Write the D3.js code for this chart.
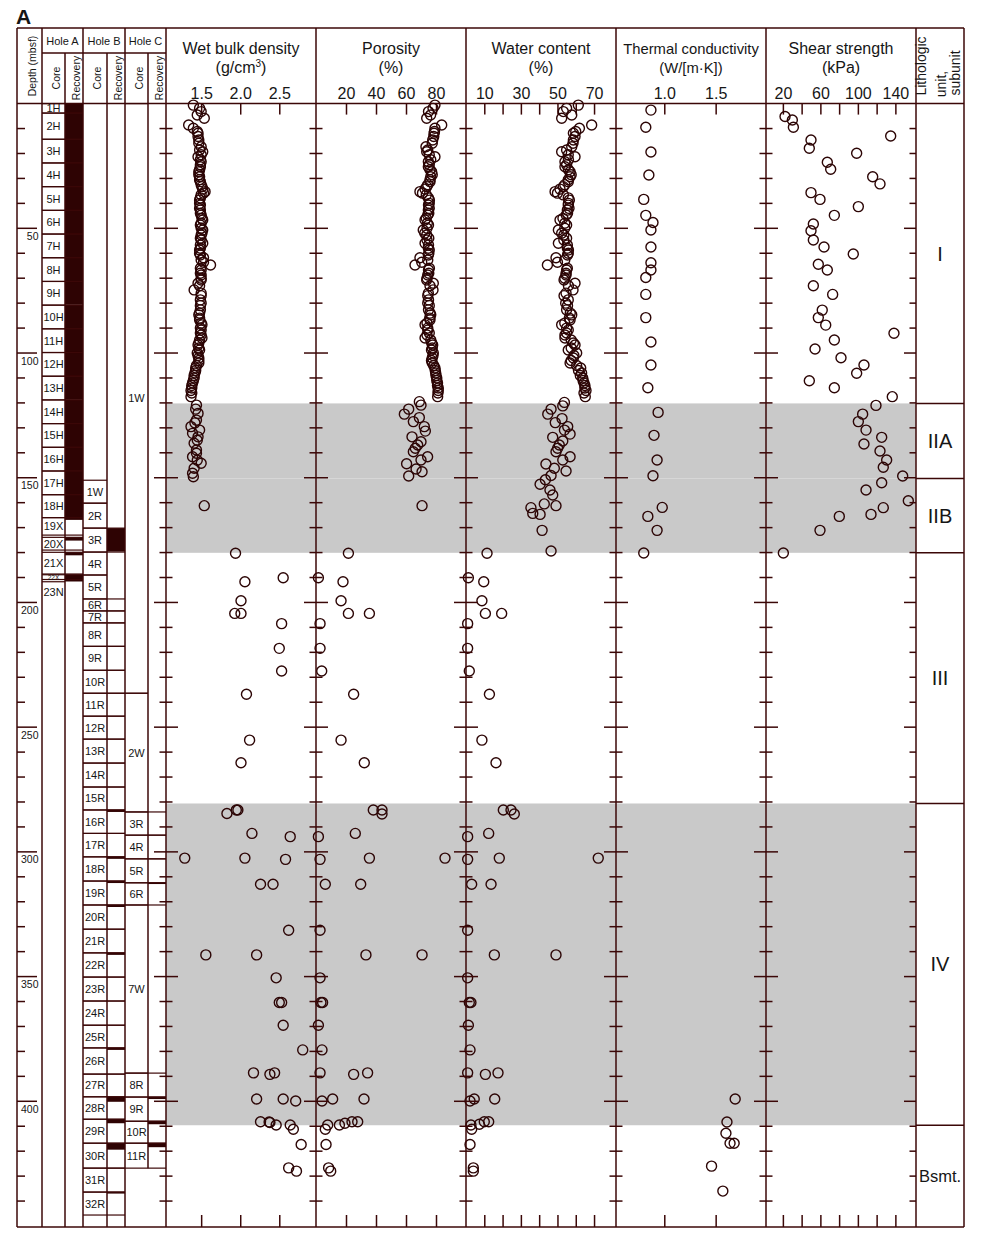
<!DOCTYPE html>
<html><head><meta charset="utf-8">
<script src="https://cdn.jsdelivr.net/npm/d3@7"></script>
<style>body{margin:0;background:#fff}svg{display:block}text{font-family:"Liberation Sans",Arial,Helvetica,sans-serif}</style>
</head><body><svg id="c" width="984" height="1244"></svg>
<script>
// ---------------- DATA ----------------
const madDepth = [0.6,1.9,3.2,4.6,5.9,8.6,9.9,11.2,11.9,13.2,14.6,15.9,17.3,18.6,19.3,20.5,21.3,22.5,23.3,24.5,25.3,26.5,27.3,28.5,29.3,30.5,31.3,32.5,33.3,34.3,35.3,35.9,36.6,37.8,38.7,40.0,40.7,42.0,42.7,44.0,44.7,46.0,46.7,48.0,48.7,50.0,50.7,52.0,52.7,54.0,54.7,56.0,56.7,58.0,58.7,60.0,60.7,61.8,62.7,63.6,64.7,66.0,66.7,68.0,68.7,70.0,70.7,72.0,73.0,74.7,76.0,77.0,78.7,80.0,81.0,82.7,84.0,84.7,86.0,86.7,88.0,88.7,90.0,90.8,92.0,92.8,94.0,94.8,96.0,96.8,98.0,98.8,100.0,101.0,102.0,103.0,104.0,105.0,106.0,107.0,108.0,109.0,110.0,111.0,112.0,113.0,114.0,115.0,116.0,117.5];
const wbdUnitI = [1.40,1.48,1.50,1.45,1.54,1.34,1.40,1.45,1.46,1.46,1.47,1.47,1.50,1.48,1.52,1.50,1.46,1.49,1.50,1.49,1.49,1.48,1.47,1.47,1.48,1.48,1.49,1.50,1.51,1.52,1.55,1.53,1.50,1.49,1.48,1.48,1.49,1.48,1.49,1.49,1.50,1.51,1.52,1.50,1.49,1.50,1.52,1.51,1.50,1.49,1.50,1.52,1.49,1.49,1.48,1.48,1.49,1.53,1.50,1.53,1.62,1.49,1.50,1.49,1.50,1.50,1.50,1.46,1.48,1.41,1.50,1.50,1.49,1.50,1.49,1.49,1.48,1.47,1.48,1.48,1.50,1.51,1.49,1.50,1.49,1.50,1.51,1.48,1.47,1.46,1.47,1.48,1.45,1.46,1.47,1.47,1.47,1.44,1.43,1.43,1.42,1.41,1.41,1.40,1.39,1.38,1.38,1.37,1.38,1.37];
const porUnitI = [79.3,78.0,75.0,76.4,73.8,83.8,79.3,79.0,78.7,78.5,77.8,77.5,73.3,74.5,73.8,75.5,79.3,76.5,74.9,75.5,74.9,76.0,77.1,77.5,76.5,76.0,76.0,74.5,73.8,72.7,69.3,71.0,73.5,74.9,75.6,75.5,75.0,75.5,74.9,75.2,74.5,73.5,72.7,74.2,75.0,74.0,71.5,72.5,73.8,75.2,74.0,72.7,75.0,74.9,75.5,75.2,74.9,69.3,74.5,70.5,66.0,75.6,75.0,75.2,74.5,74.0,73.8,78.2,76.0,78.0,74.9,74.5,75.0,74.5,75.5,75.0,76.0,76.5,75.8,76.0,74.0,72.7,74.5,74.5,75.5,74.0,72.7,76.5,77.1,77.8,77.5,77.0,78.2,78.0,77.5,77.0,77.5,78.5,79.3,79.5,79.8,80.0,80.5,80.5,81.0,81.0,81.5,81.5,81.3,81.1];
const wcUnitI = [61.4,55.0,53.2,57.8,52.3,68.7,62.0,60.0,58.7,59.6,58.7,58.5,57.8,55.0,52.3,55.9,59.6,56.0,54.1,55.0,54.1,56.0,56.9,57.5,56.9,55.9,55.9,54.0,53.2,51.4,48.7,50.0,53.2,55.9,56.5,56.0,55.9,56.3,55.4,55.5,54.8,53.0,51.4,54.0,55.0,54.0,50.5,52.3,53.5,55.0,53.5,50.5,55.4,55.4,56.0,55.9,55.5,49.2,54.0,50.0,44.5,55.4,55.0,54.7,54.7,54.0,53.6,59.6,56.0,58.5,54.7,53.6,55.9,54.5,55.5,55.0,57.0,57.8,56.5,56.9,54.0,52.3,55.0,55.9,55.0,54.1,54.1,57.5,58.7,59.6,57.5,55.9,60.5,59.0,58.7,57.5,56.9,60.5,62.7,61.5,63.2,62.5,63.8,64.0,64.5,65.0,65.0,65.6,64.5,65.2];

const wbdLower = [[120.9,1.44],[122.5,1.43],[124.2,1.46],[126.9,1.44],[128.0,1.42],[129.5,1.37],[130.9,1.48],[132.2,1.39],[133.6,1.46],[135.0,1.45],[136.2,1.41],[138.9,1.44],[140.2,1.44],[141.6,1.39],[143.0,1.45],[144.2,1.50],[146.2,1.41],[148.2,1.39],[149.6,1.40],[161.2,1.54],
 [180.3,1.94],[190.1,2.55],[191.7,2.06],[199.3,2.01],[204.4,1.93],[204.4,2.01],[208.5,2.53],[218.4,2.50],[227.5,2.53],[236.8,2.08],[255.2,2.12],[264.3,2.01],
 [283.2,1.95],[283.2,1.97],[284.6,1.83],[292.6,2.15],[293.9,2.64],[302.5,1.29],[302.5,2.06],[303.0,2.58],[313.0,2.26],[313.0,2.42],[331.4,2.62],[341.3,1.56],[341.3,2.21],[350.5,2.46],[360.4,2.50],[360.4,2.53],[369.5,2.55],[379.4,2.80],[388.6,2.17],[389.2,2.38],[388.6,2.44],[399.1,2.21],[399.1,2.55],[399.9,2.71],[408.2,2.26],[408.3,2.37],[408.5,2.38],[409.5,2.46],[409.5,2.64],[411.2,2.68],[417.3,2.78],[426.7,2.62],[428.0,2.72]];
const porLower = [[119.5,68.9],[120.9,70.0],[122.5,61.8],[124.5,58.9],[125.9,68.9],[127.5,64.9],[129.5,72.2],[131.3,72.9],[133.6,64.0],[135.6,70.0],[136.9,67.8],[138.2,66.2],[139.6,64.9],[141.6,74.4],[142.9,70.0],[144.4,60.4],[146.5,66.7],[147.6,70.7],[149.3,61.8],[161.2,70.7],
 [180.3,21.6],[190.1,1.6],[191.7,18.0],[199.3,16.7],[204.4,21.6],[204.4,35.6],[208.5,2.7],[218.4,2.7],[227.5,3.8],[236.8,25.1],[255.2,16.7],[264.3,32.2],
 [283.2,38.2],[283.2,44.0],[284.8,44.0],[292.6,26.2],[293.9,1.6],[302.5,35.6],[302.5,86.0],[303.0,2.7],[313.0,6.2],[313.0,29.8],[331.4,2.7],[341.3,33.3],[341.3,70.7],[350.5,2.7],[360.4,3.3],[360.4,4.4],[369.5,1.6],[379.4,4.0],[388.6,2.7],[389.2,25.1],[388.6,34.4],[399.9,4.0],[399.1,11.1],[399.1,32.0],[409.5,7.8],[411.2,6.2],[409.5,15.6],[408.8,19.3],[408.2,24.0],[408.2,27.8],[417.3,6.7],[426.7,8.4],[428.0,9.8]];
const wcLower = [[119.8,53.8],[121.2,52.9],[122.5,46.5],[124.5,44.7],[126.3,52.5],[127.9,48.8],[129.5,55.6],[130.9,53.8],[132.5,56.9],[133.8,47.4],[135.3,52.9],[136.9,51.0],[138.2,50.1],[139.6,49.2],[141.6,56.9],[142.9,52.9],[144.5,43.7],[146.2,48.3],[147.3,54.7],[149.1,46.5],[150.8,43.4],[152.6,40.5],[154.9,45.9],[156.9,47.4],[160.5,42.8],[161.2,49.2],[162.0,35.5],[164.3,36.5],[164.7,40.5],[171.1,41.6],[179.4,46.5],
 [180.3,11.5],[190.1,1.3],[191.7,9.7],[199.3,8.7],[204.4,10.6],[204.4,19.5],[208.5,0.9],[218.4,0.9],[227.5,1.8],[236.8,12.8],[255.2,8.7],[264.3,16.4],
 [283.2,20.4],[283.2,24.6],[284.8,26.4],[292.6,12.4],[293.9,0.9],[302.5,18.2],[302.5,72.3],[303.0,0.9],[313.0,3.1],[313.0,13.7],[331.4,0.9],[341.3,15.5],[341.3,49.2],[350.5,0.9],[360.4,1.8],[360.4,2.7],[369.5,1.3],[379.4,2.2],[388.6,0.9],[389.2,10.6],[388.6,17.5],[399.9,2.2],[399.1,4.5],[399.1,15.7],[409.5,2.7],[411.2,3.1],[409.2,7.3],[408.2,10.0],[408.2,12.4],[417.3,2.2],[426.7,4.0],[428.0,4.0]];
const tcPoints = [[2.6,0.87],[9.5,0.82],[19.4,0.87],[28.6,0.85],[38.4,0.80],[44.8,0.82],[47.7,0.89],[50.7,0.87],[57.5,0.87],[63.8,0.87],[66.7,0.87],[69.7,0.82],[76.5,0.82],[85.8,0.82],[95.6,0.87],[104.8,0.87],[113.9,0.84],[123.8,0.94],[133.0,0.90],[142.9,0.93],[149.2,0.89],[161.9,0.98],[165.5,0.84],[171.1,0.93],[180.2,0.80],
 [399.1,1.69],[408.3,1.61],[412.8,1.60],[416.8,1.68],[416.8,1.64],[426.0,1.46],[436.0,1.57]];
const shearPoints = [[5.2,22.3],[6.6,30.1],[9.5,31.2],[13.0,135],[14.6,50],[17.9,48.2],[19.9,98.7],[23.5,67.4],[26.3,71],[29.3,115.8],[32.2,123.6],[35.7,50],[38.4,59.6],[41.3,100.5],[44.8,74.9],[48.3,52.5],[51.0,50],[54.7,52.5],[57.5,63.9],[60.3,95.1],[64.4,57.8],[66.7,67.4],[73.0,52.5],[76.5,73.1],[82.8,62],[85.8,57.8],[88.8,65.7],[92.1,138.5],[94.8,74.9],[98.4,54.3],[101.9,82],[104.8,106.5],[108.1,98.7],[111.1,48.2],[113.9,74.9],[117.5,136.7],
 [121.0,119.3],[124.5,105.1],[127.5,100.5],[130.9,108.7],[133.8,125.4],[136.5,106.5],[139.3,123.6],[142.9,130.7],[145.8,127.1],[149.3,147.8],[152.0,125.4],[154.9,108.7],[159.2,153.8],[162.0,127.1],[164.7,114],[165.5,80.2],[171.1,59.6],[180.2,20.5]];

// axis ticks / labels
const wbdTicks = [1.5,2.0,2.5], wbdLabels = [1.5,2.0,2.5];
const porTicks = [20,40,60,80], porLabels = [20,40,60,80];
const wcTicks = [10,20,30,40,50,60,70], wcLabels = [10,30,50,70];
const tcTicks = [1.0,1.5], tcLabels = [1.0,1.5];
const shearTicks = [20,40,60,80,100,120,140], shearLabels = [20,60,100,140];
const depthLabels = [50,100,150,200,250,300,350,400];

// lithologic units
const unitNames = ["I","IIA","IIB","III","IV","Bsmt."];
const unitTop = [0,120.2,150.3,180.1,280.6,409.6];
const unitBottom = [120.2,150.3,180.1,280.6,409.6,450.4];
const shadedUnits = ["IIA","IIB","IV"];

// cores: [name, top (mbsf), bottom (mbsf), recovered length (m)]
const holeACores = [["1H",0,3.8,3.8],["2H",3.8,14.3,10.5],["3H",14.3,23.8,9.5],["4H",23.8,33.3,9.5],["5H",33.3,42.8,9.5],["6H",42.8,52.3,9.5],["7H",52.3,61.8,9.5],["8H",61.8,71.3,9.5],["9H",71.3,80.8,9.3],["10H",80.8,90.3,9.5],["11H",90.3,99.8,9.5],["12H",99.8,109.3,9.5],["13H",109.3,118.8,9.3],["14H",118.8,128.3,9.5],["15H",128.3,137.8,9.5],["16H",137.8,147.3,9.5],["17H",147.3,156.8,9.5],["18H",156.8,166.0,9.2],["19X",166.0,173.0,0.9],["20X",173.9,179.0,1.3],["21X",179.9,188.6,1.2],["22X",188.9,190.8,2.7],["23N",191.7,450.4,0]];
const holeBCores = [["1W",151.0,160.2,0],["2R",160.2,170.2,0],["3R",170.2,179.8,9.4],["4R",179.8,189.0,0],["5R",189.0,198.6,0],["6R",198.6,203.4,0],["7R",203.4,208.2,0],["8R",208.2,217.6,0],["9R",217.6,227.2,0],["10R",227.2,236.4,0],["11R",236.4,245.6,0],["12R",245.6,254.8,0],["13R",254.8,264.4,0],["14R",264.4,274.0,0],["15R",274.0,283.2,0],["16R",283.2,292.6,0.8],["17R",292.6,302.0,0],["18R",302.0,311.7,0.8],["19R",311.7,321.3,0.8],["20R",321.3,331.0,0.8],["21R",331.0,340.5,0],["22R",340.5,350.2,0.8],["23R",350.2,359.8,0],["24R",359.8,369.5,0],["25R",369.5,378.6,0],["26R",378.6,389.1,0.8],["27R",389.1,398.2,0],["28R",398.2,407.2,2.0],["29R",407.2,416.8,1.6],["30R",416.8,426.8,2.6],["31R",426.8,436.4,0],["32R",436.4,445.6,0.6]];
const holeCCores = [["1W",0,236.4,0],["2W",236.4,284.0,0],["3R",284.0,293.3,0],["4R",293.3,302.8,0],["5R",302.8,312.4,0],["6R",312.4,321.3,0.5],["7W",321.3,388.7,0],["8R",388.7,398.3,0],["9R",398.3,408.0,0.8],["10R",408.0,416.8,1.2],["11R",416.8,426.8,1.6]];
// cores drawn without a recovery-column box
const noRecoveryBox = ["B2R","B4R","B5R"];

// ---------------- DRAW ----------------
const LINE = "#3b0707", DOT = "#2c0505", TXT = "#161616", FILL = "#2e0303", GRAY = "#c9c9c9";
const svg = d3.select("#c");
const W = 984, H = 1244;
const FL = 17, FR = 964, FT = 28, HB = 103.6, FB = 1227;
const y = d3.scaleLinear().domain([0, 450.4]).range([HB, FB]);
svg.append("rect").attr("width", W).attr("height", H).attr("fill", "#fff");

const plotX0 = 166, plotX1 = 916;
unitNames.forEach((u, i) => {
  if (shadedUnits.includes(u)) {
    svg.append("rect").attr("x", plotX0).attr("width", plotX1 - plotX0)
      .attr("y", y(unitTop[i])).attr("height", y(unitBottom[i]) - y(unitTop[i])).attr("fill", GRAY);
  }
});

const holes = [
  {id: "A", name: "Hole A", cores: holeACores, cx0: 42, cx1: 65, rx1: 83},
  {id: "B", name: "Hole B", cores: holeBCores, cx0: 83, cx1: 107, rx1: 125},
  {id: "C", name: "Hole C", cores: holeCCores, cx0: 125, cx1: 148, rx1: 166}
];
const gCore = svg.append("g");
holes.forEach(h => {
  h.cores.forEach(c => {
    const [nm, t, b, rec] = c;
    const isW = nm.endsWith("W"), isN = nm.endsWith("N");
    if (rec > 0) {
      gCore.append("rect").attr("x", h.cx1).attr("width", h.rx1 - h.cx1)
        .attr("y", y(t)).attr("height", y(t + rec) - y(t)).attr("fill", FILL);
    }
    const xs = [[h.cx0, h.cx1]];
    if (!isW && !isN && !noRecoveryBox.includes(h.id + nm)) xs.push([h.cx1, h.rx1]);
    xs.forEach(([a, bb]) => {
      gCore.append("line").attr("x1", a).attr("x2", bb).attr("y1", y(t)).attr("y2", y(t)).attr("stroke", LINE).attr("stroke-width", 1.2);
      if (!isN) gCore.append("line").attr("x1", a).attr("x2", bb).attr("y1", y(b)).attr("y2", y(b)).attr("stroke", LINE).attr("stroke-width", 1.2);
    });
    const small = (y(b) - y(t)) < 7;
    const ly = isN ? y(t) + 10 : (y(t) + y(b)) / 2;
    gCore.append("text").attr("x", (h.cx0 + h.cx1) / 2).attr("y", ly)
      .attr("text-anchor", "middle").attr("dominant-baseline", "central")
      .attr("font-size", small ? 6.5 : 11).attr("fill", TXT).text(nm);
  });
});

const panels = [
  {x0: 166, domain: [1.05, 2.97], title: ["Wet bulk density", "(g/cm", "3", ")"], ticks: wbdTicks, labels: wbdLabels, fmt: d3.format(".1f"),
   data: madDepth.map((d, i) => [d, wbdUnitI[i]]).concat(wbdLower)},
  {x0: 316, domain: [0, 100], title: ["Porosity", "(%)"], ticks: porTicks, labels: porLabels, fmt: d3.format("d"),
   data: madDepth.map((d, i) => [d, porUnitI[i]]).concat(porLower)},
  {x0: 466, domain: [0, 82], title: ["Water content", "(%)"], ticks: wcTicks, labels: wcLabels, fmt: d3.format("d"),
   data: madDepth.map((d, i) => [d, wcUnitI[i]]).concat(wcLower)},
  {x0: 616, domain: [0.53, 1.99], title: ["Thermal conductivity", "(W/[m·K])"], ticks: tcTicks, labels: tcLabels, fmt: d3.format(".1f"), data: tcPoints, tsize: 14.8},
  {x0: 766, domain: [2, 162], title: ["Shear strength", "(kPa)"], ticks: shearTicks, labels: shearLabels, fmt: d3.format("d"), data: shearPoints}
];
const PW = 150;
panels.forEach(p => {
  const x = d3.scaleLinear().domain(p.domain).range([p.x0, p.x0 + PW]);
  const gt = svg.append("g").attr("transform", `translate(0,${HB})`)
    .call(d3.axisTop(x).tickValues(p.ticks).tickSize(-11).tickPadding(4.6)
      .tickFormat(v => p.labels.includes(v) ? p.fmt(v) : ""));
  gt.select(".domain").remove();
  gt.selectAll("line").attr("stroke", LINE).attr("stroke-width", 1.5);
  gt.selectAll("text").attr("font-size", 16).attr("fill", TXT).attr("font-family", '"Liberation Sans",Arial,sans-serif');
  const gb = svg.append("g").attr("transform", `translate(0,${FB})`)
    .call(d3.axisBottom(x).tickValues(p.ticks).tickSize(-12).tickFormat(""));
  gb.select(".domain").remove();
  gb.selectAll("line").attr("stroke", LINE).attr("stroke-width", 1.5);
  svg.append("g").selectAll("circle").data(p.data).join("circle")
    .attr("cx", d => x(d[1])).attr("cy", d => y(d[0])).attr("r", 5)
    .attr("fill", "none").attr("stroke", DOT).attr("stroke-width", 1.4);
  const cx = p.x0 + PW / 2;
  svg.append("text").attr("x", cx).attr("y", 54).attr("text-anchor", "middle")
    .attr("font-size", p.tsize || 16).attr("fill", TXT).text(p.title[0]);
  const t2 = svg.append("text").attr("x", cx).attr("y", 73).attr("text-anchor", "middle")
    .attr("font-size", p.tsize || 16).attr("fill", TXT);
  if (p.title.length > 2) {
    t2.append("tspan").text(p.title[1]);
    t2.append("tspan").attr("font-size", 10).attr("dy", -6).text(p.title[2]);
    t2.append("tspan").attr("dy", 6).text(p.title[3]);
  } else t2.text(p.title[1]);
});

const depthTicks = d3.range(10, 450, 10);
const gTicks = svg.append("g").attr("stroke", LINE).attr("stroke-width", 1.5);
[166, 316, 466, 616, 766, 916].forEach(xb => {
  depthTicks.forEach(d => {
    const major = d % 50 === 0;
    const len = major ? 12 : 6.5;
    gTicks.append("line").attr("x1", xb - len).attr("x2", xb === 916 ? xb : xb + len)
      .attr("y1", y(d)).attr("y2", y(d));
  });
});
depthTicks.forEach(d => {
  const major = d % 50 === 0;
  gTicks.append("line").attr("x1", FL).attr("x2", FL + (major ? 20 : 8)).attr("y1", y(d)).attr("y2", y(d));
});
svg.append("g").selectAll("text").data(depthLabels).join("text")
  .attr("x", 38.5).attr("y", d => y(d) + 11.5).attr("text-anchor", "end")
  .attr("font-size", 10.5).attr("fill", TXT).text(d => d);

const gL = svg.append("g").attr("stroke", LINE).attr("stroke-width", 1.5).attr("fill", "none");
[FL, 42, 83, 125, 166, 316, 466, 616, 766, 916, FR].forEach(xv => {
  gL.append("line").attr("x1", xv).attr("x2", xv).attr("y1", FT).attr("y2", FB);
});
[65, 107].forEach(xv => gL.append("line").attr("x1", xv).attr("x2", xv).attr("y1", 53).attr("y2", FB));
gL.append("line").attr("x1", 148).attr("x2", 148).attr("y1", 53).attr("y2", y(426.8));
[FT, HB, FB].forEach(yv => gL.append("line").attr("x1", FL).attr("x2", FR).attr("y1", yv).attr("y2", yv));
gL.append("line").attr("x1", 42).attr("x2", 166).attr("y1", 53).attr("y2", 53);
unitTop.slice(1).forEach(d => gL.append("line").attr("x1", 916).attr("x2", FR).attr("y1", y(d)).attr("y2", y(d)));

svg.append("text").attr("x", 16).attr("y", 24).attr("font-size", 21).attr("font-weight", "bold").attr("fill", TXT).text("A");
function vtext(x, yv, s, fs) {
  svg.append("text").attr("transform", `translate(${x},${yv}) rotate(-90)`).attr("text-anchor", "middle")
    .attr("font-size", fs).attr("fill", TXT).text(s);
}
vtext(36, 66, "Depth (mbsf)", 10.5);
holes.forEach(h => {
  svg.append("text").attr("x", (h.cx0 + h.rx1) / 2).attr("y", 45).attr("text-anchor", "middle")
    .attr("font-size", 11).attr("fill", TXT).text(h.name);
  vtext(h.cx0 + 18, 78, "Core", 10.5);
  vtext(h.cx1 + 15, 78, "Recovery", 10.5);
});
vtext(926, 66, "Lithologic", 14);
vtext(946, 84, "unit,", 14);
vtext(960, 73, "subunit", 14);

unitNames.forEach((u, i) => {
  svg.append("text").attr("x", 940).attr("y", (y(unitTop[i]) + y(unitBottom[i])) / 2)
    .attr("text-anchor", "middle").attr("dominant-baseline", "central")
    .attr("font-size", u === "Bsmt." ? 16.5 : 20).attr("fill", TXT).text(u);
});
</script></body></html>
